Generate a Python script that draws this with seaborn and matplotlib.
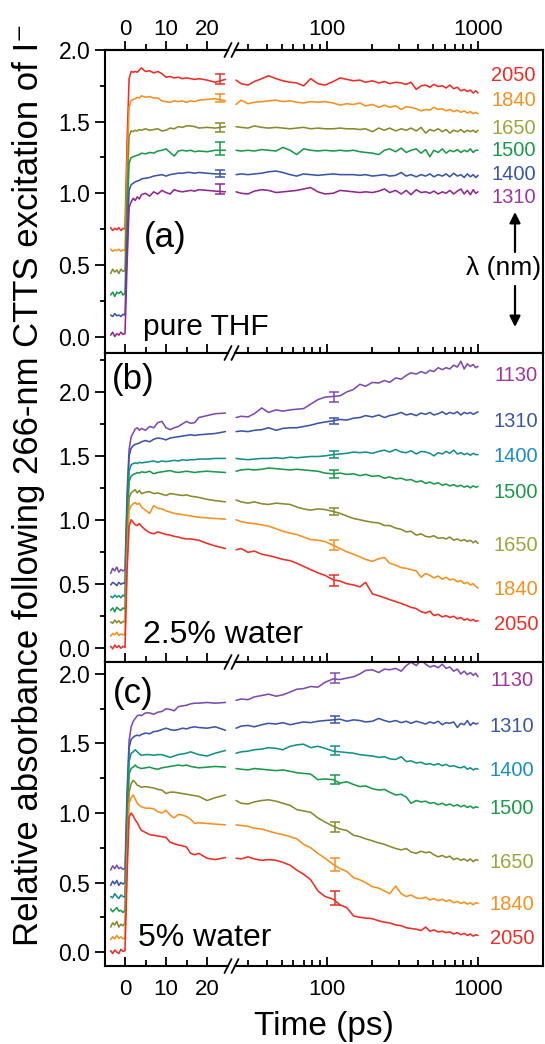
import numpy as np
import pandas as pd
import matplotlib
matplotlib.use("Agg")
import matplotlib.pyplot as plt
from matplotlib.lines import Line2D
from matplotlib.patches import FancyArrowPatch
from matplotlib.ticker import FixedLocator, NullFormatter, FormatStrFormatter, MultipleLocator
import seaborn as sns

sns.set_style("ticks")
plt.rcParams["font.family"] = ["Liberation Sans", "DejaVu Sans"]
plt.rcParams.update({"text.color": "black", "axes.edgecolor": "black",
                     "axes.labelcolor": "black", "xtick.color": "black",
                     "ytick.color": "black"})

# ---------------------------------------------------------------- time grids (ps)
T_EARLY = [-3.5, -3, -2.5, -2, -1.5, -1, -0.5, 0,
           0.5, 1, 1.5, 2, 2.5, 3, 3.5, 4, 5, 6, 7, 8, 9, 10, 11, 12, 13, 14,
           15, 16, 17, 18, 20, 22, 24.5]
T_LATE = [25, 27, 30, 33, 37, 41, 46, 51, 57, 63, 70, 78, 87, 97,
          110, 122, 135, 150, 165, 180, 200, 220, 240, 260,
          285, 310, 335, 360, 390, 420, 450, 480,
          510, 545, 580, 615, 650, 690, 730, 770, 810, 850, 890, 930, 965, 1000]

# ---------------------------------------------------------------- (a) pure THF
a_early_2050 = [0.76, 0.74, 0.755, 0.745, 0.76, 0.74, 0.755, 0.75, 1.35, 1.80, 1.85, 1.845, 1.85, 1.845, 1.86, 1.875,
                1.85, 1.855, 1.84, 1.85, 1.835, 1.81, 1.815, 1.805, 1.81, 1.80, 1.805, 1.80, 1.795, 1.80, 1.79, 1.775, 1.795]
a_late_2050 = [1.79, 1.765, 1.755, 1.78, 1.80, 1.82, 1.80, 1.785, 1.775, 1.77, 1.75, 1.80, 1.765, 1.755,
               1.78, 1.805, 1.795, 1.785, 1.79, 1.775, 1.785, 1.77, 1.78, 1.765,
               1.775, 1.77, 1.76, 1.775, 1.725, 1.75, 1.755, 1.74,
               1.76, 1.745, 1.75, 1.735, 1.755, 1.73, 1.74, 1.715, 1.725, 1.71, 1.72, 1.70, 1.715, 1.70]
a_early_1840 = [0.61, 0.595, 0.605, 0.60, 0.61, 0.595, 0.605, 0.60, 1.20, 1.60, 1.645, 1.655, 1.66, 1.67, 1.665, 1.68,
                1.67, 1.675, 1.665, 1.665, 1.645, 1.64, 1.635, 1.645, 1.64, 1.645, 1.635, 1.645, 1.64, 1.65, 1.655, 1.66, 1.645]
a_late_1840 = [1.62, 1.65, 1.625, 1.635, 1.64, 1.645, 1.65, 1.64, 1.645, 1.635, 1.63, 1.64, 1.635, 1.64,
               1.63, 1.615, 1.625, 1.62, 1.63, 1.61, 1.62, 1.60, 1.615, 1.60,
               1.61, 1.585, 1.605, 1.60, 1.59, 1.575, 1.585, 1.58,
               1.60, 1.585, 1.59, 1.575, 1.585, 1.57, 1.58, 1.565, 1.575, 1.56, 1.57, 1.555, 1.565, 1.555]
a_early_1650 = [0.44, 0.47, 0.45, 0.465, 0.44, 0.47, 0.455, 0.46, 1.00, 1.40, 1.435, 1.43, 1.44, 1.435, 1.445, 1.44,
                1.45, 1.44, 1.445, 1.45, 1.435, 1.44, 1.455, 1.45, 1.465, 1.46, 1.47, 1.47, 1.465, 1.455, 1.46, 1.455, 1.465]
a_late_1650 = [1.465, 1.46, 1.455, 1.47, 1.46, 1.455, 1.46, 1.455, 1.45, 1.455, 1.46, 1.45, 1.455, 1.45,
               1.45, 1.455, 1.45, 1.45, 1.445, 1.45, 1.43, 1.455, 1.44, 1.455,
               1.435, 1.45, 1.44, 1.455, 1.435, 1.46, 1.42, 1.445,
               1.435, 1.45, 1.43, 1.445, 1.42, 1.44, 1.43, 1.445, 1.425, 1.44, 1.43, 1.44, 1.425, 1.44]
a_early_1500 = [0.29, 0.31, 0.28, 0.31, 0.30, 0.315, 0.29, 0.30, 0.85, 1.21, 1.25, 1.255, 1.26, 1.265, 1.27, 1.28,
                1.275, 1.285, 1.28, 1.295, 1.30, 1.31, 1.285, 1.26, 1.295, 1.30, 1.295, 1.30, 1.29, 1.295, 1.29, 1.30, 1.30]
a_late_1500 = [1.30, 1.295, 1.30, 1.295, 1.305, 1.30, 1.295, 1.32, 1.30, 1.27, 1.31, 1.30, 1.295, 1.30,
               1.295, 1.30, 1.295, 1.30, 1.29, 1.285, 1.28, 1.27, 1.30, 1.31,
               1.29, 1.315, 1.285, 1.30, 1.31, 1.28, 1.305, 1.255,
               1.30, 1.285, 1.31, 1.28, 1.30, 1.29, 1.305, 1.285, 1.30, 1.29, 1.31, 1.285, 1.30, 1.30]
a_early_1400 = [0.15, 0.14, 0.16, 0.145, 0.15, 0.14, 0.155, 0.15, 0.65, 1.02, 1.06, 1.07, 1.08, 1.085, 1.09, 1.10,
                1.105, 1.11, 1.12, 1.125, 1.13, 1.12, 1.13, 1.135, 1.14, 1.14, 1.145, 1.145, 1.14, 1.145, 1.14, 1.135, 1.135]
a_late_1400 = [1.13, 1.135, 1.13, 1.135, 1.14, 1.15, 1.155, 1.145, 1.13, 1.12, 1.135, 1.13, 1.125, 1.13,
               1.135, 1.13, 1.13, 1.13, 1.125, 1.13, 1.12, 1.125, 1.13, 1.12,
               1.125, 1.145, 1.12, 1.13, 1.115, 1.13, 1.12, 1.135,
               1.115, 1.13, 1.12, 1.135, 1.115, 1.14, 1.12, 1.13, 1.11, 1.135, 1.115, 1.13, 1.11, 1.125]
a_early_1310 = [0.01, 0.03, 0.0, 0.02, 0.01, 0.03, 0.015, 0.02, 0.50, 0.90, 0.94, 0.965, 0.95, 0.975, 0.96, 0.99,
                1.00, 0.98, 1.01, 0.995, 1.02, 1.005, 0.995, 1.025, 1.015, 1.01, 1.015, 1.02, 1.015, 1.025, 1.02, 1.015, 1.01]
a_late_1310 = [1.01, 1.00, 0.995, 1.015, 1.025, 1.02, 1.005, 1.01, 1.015, 1.02, 1.03, 1.04, 1.01, 0.995,
               1.00, 1.02, 1.015, 1.01, 1.005, 1.01, 1.005, 1.015, 1.03, 1.005,
               1.02, 0.995, 1.02, 0.99, 1.025, 1.005, 1.01, 1.00,
               1.015, 0.995, 1.01, 1.00, 1.02, 0.995, 1.015, 1.03, 0.995, 1.02, 0.99, 1.025, 1.00, 1.01]

# ---------------------------------------------------------------- (b) 2.5% water
b_early_1130 = [0.58, 0.62, 0.60, 0.63, 0.59, 0.61, 0.60, 0.61, 1.20, 1.55, 1.65, 1.68, 1.71, 1.72, 1.70, 1.715,
                1.70, 1.73, 1.72, 1.76, 1.77, 1.72, 1.705, 1.72, 1.73, 1.75, 1.77, 1.755, 1.76, 1.80, 1.815, 1.83, 1.835]
b_late_1130 = [1.80, 1.81, 1.805, 1.83, 1.875, 1.84, 1.86, 1.85, 1.86, 1.865, 1.87, 1.905, 1.94, 1.96,
               1.965, 1.97, 2.00, 2.02, 2.06, 2.045, 2.075, 2.07, 2.09, 2.075,
               2.11, 2.10, 2.13, 2.15, 2.14, 2.16, 2.145, 2.17,
               2.16, 2.19, 2.175, 2.19, 2.18, 2.21, 2.195, 2.24, 2.18, 2.22, 2.20, 2.215, 2.19, 2.20]
b_early_1310 = [0.49, 0.51, 0.50, 0.485, 0.51, 0.495, 0.505, 0.50, 1.10, 1.50, 1.56, 1.58, 1.59, 1.595, 1.60, 1.61,
                1.62, 1.61, 1.63, 1.64, 1.635, 1.625, 1.64, 1.645, 1.65, 1.655, 1.66, 1.665, 1.66, 1.665, 1.67, 1.675, 1.69]
b_late_1310 = [1.69, 1.695, 1.69, 1.70, 1.705, 1.72, 1.70, 1.715, 1.72, 1.72, 1.73, 1.74, 1.755, 1.765,
               1.775, 1.785, 1.78, 1.795, 1.80, 1.815, 1.805, 1.82, 1.80, 1.815,
               1.825, 1.84, 1.82, 1.83, 1.815, 1.835, 1.825, 1.84,
               1.82, 1.83, 1.845, 1.825, 1.84, 1.83, 1.845, 1.82, 1.84, 1.83, 1.84, 1.825, 1.835, 1.845]
b_early_1400 = [0.40, 0.39, 0.41, 0.395, 0.405, 0.39, 0.41, 0.40, 1.00, 1.38, 1.43, 1.44, 1.445, 1.44, 1.45, 1.445,
                1.45, 1.455, 1.46, 1.45, 1.46, 1.455, 1.46, 1.465, 1.46, 1.47, 1.465, 1.47, 1.47, 1.475, 1.475, 1.48, 1.48]
b_late_1400 = [1.48, 1.475, 1.47, 1.475, 1.48, 1.48, 1.485, 1.48, 1.49, 1.485, 1.49, 1.495, 1.495, 1.50,
               1.51, 1.515, 1.52, 1.53, 1.525, 1.53, 1.52, 1.535, 1.545, 1.53,
               1.55, 1.53, 1.525, 1.54, 1.515, 1.535, 1.53, 1.52,
               1.50, 1.525, 1.515, 1.535, 1.52, 1.545, 1.515, 1.525, 1.51, 1.52, 1.505, 1.52, 1.51, 1.51]
b_early_1500 = [0.29, 0.31, 0.28, 0.315, 0.30, 0.29, 0.31, 0.30, 0.90, 1.30, 1.34, 1.355, 1.36, 1.37, 1.365, 1.375,
                1.37, 1.38, 1.36, 1.37, 1.375, 1.38, 1.385, 1.375, 1.37, 1.375, 1.38, 1.375, 1.37, 1.375, 1.38, 1.375, 1.37]
b_late_1500 = [1.38, 1.39, 1.395, 1.39, 1.395, 1.405, 1.40, 1.395, 1.39, 1.395, 1.39, 1.385, 1.38, 1.365,
               1.36, 1.365, 1.355, 1.36, 1.345, 1.355, 1.34, 1.345, 1.325, 1.335,
               1.32, 1.325, 1.31, 1.315, 1.295, 1.305, 1.285, 1.295,
               1.28, 1.29, 1.27, 1.28, 1.265, 1.275, 1.26, 1.27, 1.255, 1.265, 1.25, 1.265, 1.255, 1.26]
b_early_1650 = [0.20, 0.19, 0.215, 0.195, 0.21, 0.19, 0.205, 0.20, 0.80, 1.17, 1.21, 1.225, 1.235, 1.21, 1.23, 1.205,
                1.215, 1.22, 1.205, 1.21, 1.20, 1.19, 1.205, 1.20, 1.195, 1.19, 1.195, 1.185, 1.18, 1.175, 1.16, 1.15, 1.14]
b_late_1650 = [1.155, 1.14, 1.13, 1.14, 1.125, 1.12, 1.13, 1.125, 1.12, 1.10, 1.085, 1.075, 1.085, 1.08,
               1.065, 1.05, 1.03, 1.01, 1.00, 0.99, 0.98, 0.975, 0.955, 0.955,
               0.935, 0.925, 0.905, 0.91, 0.88, 0.89, 0.87, 0.865,
               0.875, 0.855, 0.86, 0.85, 0.865, 0.84, 0.85, 0.835, 0.845, 0.83, 0.84, 0.82, 0.835, 0.815]
b_early_1840 = [0.09, 0.11, 0.10, 0.12, 0.095, 0.105, 0.10, 0.10, 0.70, 1.07, 1.11, 1.125, 1.135, 1.12, 1.13, 1.10,
                1.075, 1.05, 1.11, 1.09, 1.085, 1.07, 1.06, 1.05, 1.045, 1.04, 1.035, 1.03, 1.025, 1.02, 1.015, 1.01, 1.005]
b_late_1840 = [1.00, 0.985, 0.975, 0.97, 0.96, 0.95, 0.93, 0.91, 0.895, 0.885, 0.865, 0.845, 0.84, 0.83,
               0.80, 0.775, 0.75, 0.73, 0.71, 0.69, 0.675, 0.695, 0.705, 0.66,
               0.645, 0.625, 0.62, 0.61, 0.60, 0.55, 0.58, 0.565,
               0.545, 0.56, 0.535, 0.55, 0.53, 0.535, 0.515, 0.525, 0.50, 0.51, 0.49, 0.50, 0.48, 0.465]
b_early_2050 = [0.01, -0.01, 0.02, 0.0, 0.015, -0.005, 0.01, 0.0, 0.60, 0.95, 1.00, 0.98, 0.96, 0.955, 0.97, 0.95,
                0.92, 0.90, 0.89, 0.905, 0.895, 0.885, 0.88, 0.87, 0.865, 0.855, 0.85, 0.85, 0.845, 0.84, 0.815, 0.795, 0.775]
b_late_2050 = [0.765, 0.775, 0.745, 0.755, 0.73, 0.72, 0.705, 0.69, 0.68, 0.66, 0.635, 0.61, 0.585, 0.565,
               0.53, 0.52, 0.50, 0.49, 0.475, 0.51, 0.42, 0.405, 0.39, 0.375,
               0.36, 0.345, 0.33, 0.315, 0.305, 0.28, 0.27, 0.285,
               0.25, 0.26, 0.24, 0.25, 0.235, 0.245, 0.225, 0.235, 0.215, 0.225, 0.21, 0.22, 0.205, 0.21]

# ---------------------------------------------------------------- (c) 5% water
c_early_1130 = [0.59, 0.62, 0.60, 0.625, 0.60, 0.61, 0.595, 0.60, 1.15, 1.52, 1.62, 1.66, 1.68, 1.70, 1.705, 1.70,
                1.72, 1.72, 1.71, 1.725, 1.73, 1.75, 1.745, 1.735, 1.765, 1.77, 1.775, 1.785, 1.79, 1.79, 1.795, 1.79, 1.795]
c_late_1130 = [1.81, 1.82, 1.815, 1.835, 1.845, 1.855, 1.84, 1.85, 1.87, 1.89, 1.895, 1.91, 1.905, 1.94,
               1.965, 1.96, 1.97, 1.98, 2.00, 2.025, 2.03, 2.01, 2.035, 2.03,
               2.04, 2.02, 2.06, 2.085, 2.06, 2.10, 2.07, 2.05,
               2.06, 2.045, 2.07, 2.04, 2.05, 2.02, 2.035, 2.00, 2.02, 1.995, 2.01, 1.99, 2.005, 1.98]
c_early_1310 = [0.48, 0.51, 0.49, 0.515, 0.48, 0.50, 0.49, 0.50, 1.05, 1.47, 1.53, 1.545, 1.555, 1.56, 1.555, 1.565,
                1.575, 1.57, 1.585, 1.59, 1.60, 1.61, 1.60, 1.595, 1.60, 1.61, 1.605, 1.615, 1.62, 1.615, 1.61, 1.62, 1.595]
c_late_1310 = [1.61, 1.625, 1.63, 1.62, 1.635, 1.645, 1.64, 1.65, 1.635, 1.645, 1.655, 1.65, 1.66, 1.665,
               1.67, 1.675, 1.66, 1.67, 1.665, 1.655, 1.66, 1.68, 1.665, 1.655,
               1.665, 1.65, 1.66, 1.645, 1.66, 1.65, 1.64, 1.655,
               1.645, 1.66, 1.635, 1.65, 1.645, 1.655, 1.615, 1.645, 1.635, 1.665, 1.63, 1.65, 1.64, 1.645]
c_early_1400 = [0.40, 0.39, 0.42, 0.40, 0.385, 0.41, 0.40, 0.395, 0.95, 1.37, 1.43, 1.44, 1.455, 1.44, 1.425, 1.415,
                1.42, 1.42, 1.415, 1.42, 1.42, 1.41, 1.40, 1.41, 1.42, 1.425, 1.43, 1.44, 1.43, 1.42, 1.41, 1.43, 1.45]
c_late_1400 = [1.43, 1.44, 1.445, 1.455, 1.46, 1.47, 1.465, 1.455, 1.48, 1.49, 1.495, 1.47, 1.48, 1.465,
               1.445, 1.44, 1.435, 1.43, 1.42, 1.415, 1.41, 1.40, 1.405, 1.39,
               1.385, 1.405, 1.37, 1.375, 1.36, 1.365, 1.35, 1.355,
               1.345, 1.355, 1.34, 1.35, 1.335, 1.34, 1.33, 1.325, 1.335, 1.315, 1.325, 1.31, 1.32, 1.315]
c_early_1500 = [0.31, 0.29, 0.305, 0.32, 0.295, 0.30, 0.285, 0.30, 0.85, 1.28, 1.32, 1.33, 1.345, 1.33, 1.325, 1.32,
                1.325, 1.33, 1.32, 1.315, 1.325, 1.33, 1.335, 1.34, 1.345, 1.34, 1.345, 1.335, 1.33, 1.325, 1.33, 1.335, 1.33]
c_late_1500 = [1.32, 1.315, 1.31, 1.32, 1.315, 1.31, 1.305, 1.31, 1.30, 1.29, 1.285, 1.28, 1.24, 1.245,
               1.24, 1.215, 1.225, 1.205, 1.19, 1.195, 1.175, 1.165, 1.17, 1.15,
               1.13, 1.135, 1.115, 1.07, 1.09, 1.08, 1.085, 1.07,
               1.075, 1.06, 1.07, 1.055, 1.065, 1.05, 1.06, 1.045, 1.055, 1.04, 1.05, 1.035, 1.045, 1.04]
c_early_1650 = [0.18, 0.21, 0.195, 0.22, 0.18, 0.20, 0.19, 0.21, 0.75, 1.15, 1.21, 1.235, 1.22, 1.20, 1.195, 1.185,
                1.19, 1.185, 1.18, 1.17, 1.165, 1.14, 1.15, 1.15, 1.145, 1.14, 1.135, 1.13, 1.125, 1.12, 1.09, 1.11, 1.13]
c_late_1650 = [1.09, 1.07, 1.065, 1.08, 1.09, 1.095, 1.085, 1.07, 1.055, 1.025, 1.015, 1.005, 0.965, 0.935,
               0.905, 0.885, 0.875, 0.84, 0.83, 0.815, 0.80, 0.785, 0.775, 0.76,
               0.745, 0.735, 0.745, 0.72, 0.71, 0.725, 0.715, 0.72,
               0.70, 0.685, 0.695, 0.68, 0.69, 0.665, 0.675, 0.66, 0.67, 0.655, 0.67, 0.65, 0.665, 0.66]
c_early_1840 = [0.09, 0.11, 0.095, 0.12, 0.10, 0.11, 0.095, 0.10, 0.65, 1.07, 1.11, 1.13, 1.10, 1.07, 1.055, 1.045,
                1.035, 1.035, 1.03, 1.01, 1.00, 1.02, 0.985, 0.965, 0.99, 0.985, 0.975, 0.955, 0.925, 0.93, 0.925, 0.92, 0.915]
c_late_1840 = [0.915, 0.91, 0.905, 0.89, 0.885, 0.87, 0.855, 0.845, 0.83, 0.815, 0.775, 0.75, 0.71, 0.675,
               0.63, 0.60, 0.58, 0.535, 0.52, 0.50, 0.47, 0.46, 0.44, 0.42,
               0.475, 0.42, 0.40, 0.41, 0.39, 0.385, 0.395, 0.375,
               0.385, 0.37, 0.38, 0.365, 0.375, 0.355, 0.365, 0.35, 0.36, 0.345, 0.355, 0.34, 0.355, 0.35]
c_early_2050 = [0.01, -0.01, 0.015, 0.0, -0.01, 0.02, 0.005, 0.01, 0.55, 0.97, 1.00, 0.98, 0.95, 0.93, 0.90, 0.875,
                0.86, 0.845, 0.84, 0.835, 0.83, 0.825, 0.79, 0.78, 0.77, 0.765, 0.755, 0.71, 0.70, 0.71, 0.675, 0.665, 0.68]
c_late_2050 = [0.675, 0.67, 0.685, 0.67, 0.66, 0.665, 0.66, 0.645, 0.625, 0.59, 0.56, 0.52, 0.44, 0.40,
               0.38, 0.34, 0.32, 0.26, 0.25, 0.245, 0.24, 0.225, 0.215, 0.21,
               0.195, 0.19, 0.175, 0.17, 0.165, 0.155, 0.18, 0.15,
               0.16, 0.145, 0.15, 0.14, 0.145, 0.13, 0.14, 0.125, 0.135, 0.12, 0.13, 0.115, 0.125, 0.12]

# ---------------------------------------------------------------- error bars
A_ERR_T = 23.2
A_ERR_Y = [1.80, 1.665, 1.46, 1.31, 1.14, 1.03]
A_ERR_E = [0.035, 0.03, 0.03, 0.045, 0.025, 0.035]
B_ERR_T = 112
B_ERR_Y = [1.96, 1.775, 1.51, 1.36, 1.065, 0.80, 0.525]
B_ERR_E = [0.04, 0.025, 0.025, 0.03, 0.025, 0.04, 0.04]
C_ERR_T = 113
C_ERR_Y = [1.97, 1.67, 1.45, 1.24, 0.90, 0.63, 0.39]
C_ERR_E = [0.035, 0.025, 0.03, 0.03, 0.035, 0.045, 0.05]

# ---------------------------------------------------------------- wavelengths and colours
A_NM = ["2050", "1840", "1650", "1500", "1400", "1310"]
BC_NM = ["1130", "1310", "1400", "1500", "1650", "1840", "2050"]

RED, ORANGE, OLIVE, GREEN = "#ee2d24", "#f7901e", "#878a2c", "#1a9a4a"
BLUE, PURPLE, VIOLET, TEAL = "#3b55a8", "#92278f", "#7e4bb3", "#139189"
A_LINE = [RED, ORANGE, OLIVE, GREEN, BLUE, PURPLE]
A_TEXT = [RED, ORANGE, "#98a83e", GREEN, BLUE, "#a0359e"]
BC_LINE = [VIOLET, BLUE, TEAL, GREEN, OLIVE, ORANGE, RED]
BC_TEXT = ["#a0359e", BLUE, "#1a8dc8", GREEN, "#98a83e", ORANGE, RED]

# label rows (pixel rows of the figure)
A_LABEL_Y = [75.5, 100.5, 129, 150.5, 174.5, 197.5]
B_LABEL_Y = [375.5, 421.5, 457, 492.5, 545.5, 589.5, 625]
C_LABEL_Y = [680, 726, 770, 808, 863, 905, 938.5]

W, H = 545, 1044
fig = plt.figure(figsize=(W / 100, H / 100), dpi=100)


def fx(x):
    return x / W


def fy(y):
    return 1 - y / H


X_LEFT, X_BREAK_L, X_BREAK_R, X_RIGHT = 105, 228, 235, 543
LIN_LIM = (-4.878, 25.12)
LOG_LIM = (24.59, 2694)
SPINE_W = 1.5


def draw_segment(ax, times, series, names, colors):
    frames = [pd.DataFrame({"t": times, "A": vals, "nm": nm}) for nm, vals in zip(names, series)]
    df = pd.concat(frames, ignore_index=True)
    sns.lineplot(data=df, x="t", y="A", hue="nm", hue_order=names,
                 palette=dict(zip(names, colors)), estimator=None, sort=False,
                 legend=False, linewidth=1.15, ax=ax)
    ax.set_xlabel("")
    ax.set_ylabel("")


def make_panel(top, bot, ylim, names, early, late, colors, err_t, err_y, err_e,
               err_on_log, first, last):
    b = fy(bot)
    h = (bot - top) / H
    axL = fig.add_axes([fx(X_LEFT), b, fx(X_BREAK_L) - fx(X_LEFT), h])
    axR = fig.add_axes([fx(X_BREAK_R), b, fx(X_RIGHT) - fx(X_BREAK_R), h])
    axR.set_xscale("log")

    draw_segment(axL, T_EARLY, early, names, colors)
    draw_segment(axR, T_LATE, late, names, colors)

    err_ax = axR if err_on_log else axL
    for yv, ev, c in zip(err_y, err_e, colors):
        err_ax.errorbar([err_t], [yv], yerr=[ev], color=c, lw=1.1, capsize=3.5,
                        capthick=1.1, fmt="none")

    for ax in (axL, axR):
        ax.set_ylim(*ylim)
        for s in ax.spines.values():
            s.set_linewidth(SPINE_W)
    axL.set_xlim(*LIN_LIM)
    axR.set_xlim(*LOG_LIM)
    axL.spines["right"].set_visible(False)
    axR.spines["left"].set_visible(False)

    # y axis
    axL.set_yticks([0.0, 0.5, 1.0, 1.5, 2.0])
    axL.yaxis.set_major_formatter(FormatStrFormatter("%.1f"))
    axL.yaxis.set_minor_locator(MultipleLocator(0.25))
    axL.tick_params(axis="y", which="major", direction="out", length=7, width=1.3,
                    labelsize=16.5, pad=3.5)
    axL.tick_params(axis="y", which="minor", direction="out", length=3.5, width=1.3)
    axR.set_yticks([])
    axR.yaxis.set_minor_locator(FixedLocator([]))

    # x axis: linear part
    axL.set_xticks([0, 10, 20])
    axL.set_xticklabels(["0", "10", "20"])
    axL.xaxis.set_minor_locator(FixedLocator([5, 15]))
    # x axis: log part
    axR.xaxis.set_major_locator(FixedLocator([100, 1000]))
    axR.set_xticklabels(["100", "1000"])
    axR.xaxis.set_minor_locator(FixedLocator([30, 40, 50, 60, 70, 80, 90,
                                              200, 300, 400, 500, 600, 700, 800, 900]))
    axR.xaxis.set_minor_formatter(NullFormatter())
    for ax in (axL, axR):
        ax.tick_params(axis="x", which="major", direction="in", length=6.5, width=1.3,
                       top=False, bottom=True, labelbottom=last, labelsize=16, pad=9.5)
        ax.tick_params(axis="x", which="minor", direction="in", length=4, width=1.3,
                       top=False, bottom=True)

    if first:
        for ax, ticks, labels, minors in (
                (axL, [0, 10, 20], ["0", "10", "20"], [5, 15]),
                (axR, [100, 1000], ["100", "1000"],
                 [30, 40, 50, 60, 70, 80, 90, 200, 300, 400, 500, 600, 700, 800, 900])):
            sec = ax.secondary_xaxis("top")
            sec.set_xticks(ticks)
            sec.set_xticklabels(labels)
            sec.xaxis.set_minor_locator(FixedLocator(minors))
            sec.xaxis.set_minor_formatter(NullFormatter())
            sec.tick_params(which="major", direction="out", length=6.5, width=1.3,
                            labelsize=16, pad=0.5)
            sec.tick_params(which="minor", direction="out", length=4, width=1.3)
            sec.spines["top"].set_linewidth(SPINE_W)
    return axL, axR


A_TOP, AB, BC, C_BOT = 50, 353, 662, 966

make_panel(A_TOP, AB, (-0.115, 2.0), A_NM,
           [a_early_2050, a_early_1840, a_early_1650, a_early_1500, a_early_1400, a_early_1310],
           [a_late_2050, a_late_1840, a_late_1650, a_late_1500, a_late_1400, a_late_1310],
           A_LINE, A_ERR_T, A_ERR_Y, A_ERR_E, False, True, False)
make_panel(AB, BC, (-0.113, 2.305), BC_NM,
           [b_early_1130, b_early_1310, b_early_1400, b_early_1500, b_early_1650, b_early_1840, b_early_2050],
           [b_late_1130, b_late_1310, b_late_1400, b_late_1500, b_late_1650, b_late_1840, b_late_2050],
           BC_LINE, B_ERR_T, B_ERR_Y, B_ERR_E, True, False, False)
make_panel(BC, C_BOT, (-0.10, 2.086), BC_NM,
           [c_early_1130, c_early_1310, c_early_1400, c_early_1500, c_early_1650, c_early_1840, c_early_2050],
           [c_late_1130, c_late_1310, c_late_1400, c_late_1500, c_late_1650, c_late_1840, c_late_2050],
           BC_LINE, C_ERR_T, C_ERR_Y, C_ERR_E, True, False, True)

# axis-break marks on every horizontal frame line
for yb in (A_TOP, AB, BC, C_BOT):
    for xb in (X_BREAK_L, X_BREAK_R):
        fig.add_artist(Line2D([fx(xb - 3.5), fx(xb + 3.5)], [fy(yb + 7), fy(yb - 7)],
                              transform=fig.transFigure, color="black", lw=1.3))

# wavelength labels
for labels, ys, cols, xc in ((A_NM, A_LABEL_Y, A_TEXT, 513.5),
                             (BC_NM, B_LABEL_Y, BC_TEXT, 516),
                             (BC_NM, C_LABEL_Y, BC_TEXT, 512)):
    for lab, yv, c in zip(labels, ys, cols):
        fig.text(fx(xc), fy(yv), lab, color=c, fontsize=14.5, ha="center", va="center")

# panel tags and solvent names
fig.text(fx(165), fy(237), "(a)", fontsize=25, ha="center", va="center")
fig.text(fx(133), fy(380), "(b)", fontsize=25, ha="center", va="center")
fig.text(fx(133), fy(693), "(c)", fontsize=25, ha="center", va="center")
fig.text(fx(143), fy(335), "pure THF", fontsize=21.5, ha="left", va="baseline")
fig.text(fx(143), fy(643), "2.5% water", fontsize=23, ha="left", va="baseline")
fig.text(fx(138), fy(946), "5% water", fontsize=23, ha="left", va="baseline")

# wavelength direction key
fig.text(fx(504), fy(268), "\u03bb (nm)", fontsize=19, ha="center", va="center")
arrow = dict(arrowstyle="-|>", color="black", lw=1.6, mutation_scale=16, shrinkA=0, shrinkB=0)
fig.add_artist(FancyArrowPatch((fx(515), fy(252)), (fx(515), fy(212)),
                               transform=fig.transFigure, **arrow))
fig.add_artist(FancyArrowPatch((fx(515), fy(286)), (fx(515), fy(327)),
                               transform=fig.transFigure, **arrow))

# shared axis titles
fig.text(fx(29), fy(485), "Relative absorbance following 266-nm CTTS excitation of I\u207b",
         fontsize=25, rotation=90, ha="center", va="center")
fig.text(fx(324), fy(1026), "Time (ps)", fontsize=24, ha="center", va="center")

fig.savefig("out.png", dpi=100)
